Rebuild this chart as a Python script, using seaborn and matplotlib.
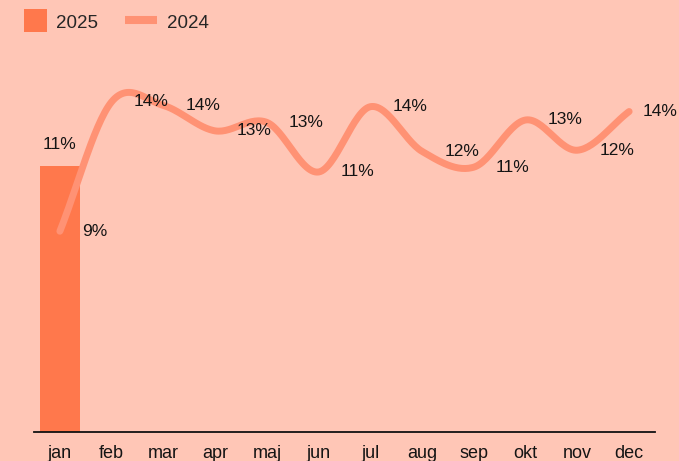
import numpy as np
import matplotlib
matplotlib.use("Agg")
import matplotlib.pyplot as plt
import seaborn as sns
from matplotlib.patches import Rectangle
from matplotlib.lines import Line2D
from matplotlib.legend_handler import HandlerPatch

months = ["jan", "feb", "mar", "apr", "maj", "jun", "jul", "aug", "sep", "okt", "nov", "dec"]
months_2025 = ["jan"]
values_2025 = [11.0]
labels_2025 = ["11%"]
values_2024 = [8.3, 13.65, 13.5, 12.45, 12.8, 10.75, 13.45, 11.6, 10.95, 12.9, 11.65, 13.25]
labels_2024 = ["9%", "14%", "14%", "13%", "13%", "11%", "14%", "12%", "11%", "13%", "12%", "14%"]

BG = "#FFC6B6"
BAR = "#FF784C"
LINE = "#FF9274"
TXT = "#141414"

sns.set_theme(style="white")
plt.rcParams["font.family"] = ["Liberation Sans", "DejaVu Sans"]


def catmull_rom(y, n=30):
    # cubic hermite through the points, central-difference tangents
    y = np.asarray(y, dtype=float)
    m = np.gradient(y)
    xs, ys = [], []
    for i in range(len(y) - 1):
        t = np.linspace(0, 1, n, endpoint=(i == len(y) - 2))
        h00 = 2 * t**3 - 3 * t**2 + 1
        h10 = t**3 - 2 * t**2 + t
        h01 = -2 * t**3 + 3 * t**2
        h11 = t**3 - t**2
        xs.append(i + t)
        ys.append(h00 * y[i] + h10 * m[i] + h01 * y[i + 1] + h11 * m[i + 1])
    return np.concatenate(xs), np.concatenate(ys)


fig = plt.figure(figsize=(6.79, 4.61), dpi=100, facecolor=BG)
ax = fig.add_axes([34 / 679, 1 - 432 / 461, (655 - 34) / 679, (432 - 45) / 461])
ax.set_facecolor(BG)

sns.barplot(x=months_2025, y=values_2025, order=months, color=BAR,
            saturation=1, width=0.77, linewidth=0, edgecolor=BAR, ax=ax)

sx, sy = catmull_rom(values_2024)
ax.plot(sx, sy, color=LINE, lw=5, solid_capstyle="round", zorder=3)

ax.set_xlim(-0.5, 11.5)
ax.set_ylim(0, 16)

for i, (v, lab) in enumerate(zip(values_2025, labels_2025)):
    ax.annotate(lab, (months.index(months_2025[i]), v), xytext=(0, 21),
                textcoords="offset pixels", ha="center", va="center",
                fontsize=12.5, color=TXT, zorder=4)

for i, (v, lab) in enumerate(zip(values_2024, labels_2024)):
    dx = 13 if i == len(values_2024) - 1 else 22
    ax.annotate(lab, (i, v), xytext=(dx, 0), textcoords="offset pixels",
                ha="left", va="center", fontsize=12.5, color=TXT, zorder=4)

ax.set_xlabel("")
ax.set_ylabel("")
ax.set_yticks([])
ax.tick_params(axis="x", length=0, pad=9, labelsize=13, colors=TXT)
for s in ["top", "left", "right"]:
    ax.spines[s].set_visible(False)
ax.spines["bottom"].set_color("#111111")
ax.spines["bottom"].set_linewidth(1.3)


def square_patch(legend, orig_handle, xdescent, ydescent, width, height, fontsize):
    side = 1.24 * fontsize
    return Rectangle((width - side - xdescent, height / 2 - side / 2 - ydescent + 0.1 * fontsize),
                     side, side)


handles = [Rectangle((0, 0), 1, 1, facecolor=BAR, edgecolor="none"),
           Line2D([0], [0], color=LINE, lw=5.8, solid_capstyle="butt")]
fig.legend(handles, ["2025", "2024"], loc="upper left", ncol=2,
           bbox_to_anchor=(15 / 679, 1 - 12 / 461), frameon=False,
           fontsize=13.5, handlelength=1.7, handleheight=1.3,
           handletextpad=0.5, columnspacing=1.45, borderpad=0, borderaxespad=0,
           handler_map={Rectangle: HandlerPatch(patch_func=square_patch)})

fig.savefig("out.png", dpi=100, facecolor=BG)
